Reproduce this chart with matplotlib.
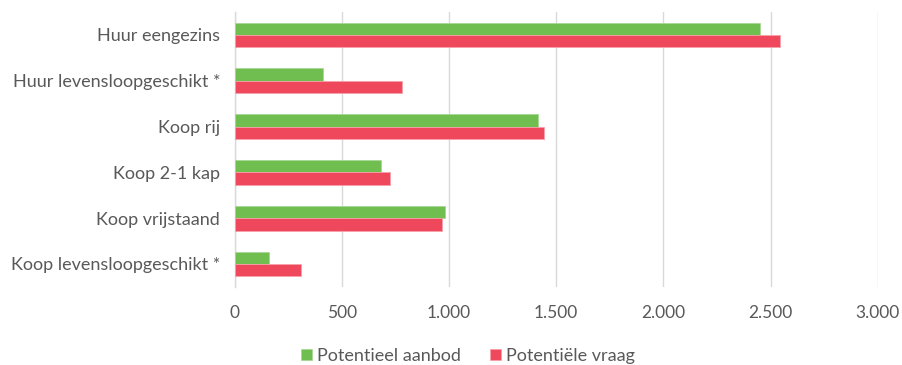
import matplotlib
matplotlib.use("Agg")
import matplotlib.pyplot as plt
from matplotlib.ticker import FuncFormatter
import numpy as np

categories = [
    "Huur eengezins",
    "Huur levensloopgeschikt *",
    "Koop rij",
    "Koop 2-1 kap",
    "Koop vrijstaand",
    "Koop levensloopgeschikt *",
]
aanbod = [2450, 412, 1414, 684, 979, 162]
vraag = [2545, 779, 1443, 723, 968, 307]
series_names = ["Potentieel aanbod", "Potentiële vraag"]
x_ticks = [0, 500, 1000, 1500, 2000, 2500, 3000]

green = "#70BE4F"
red = "#EF485C"
text_gray = "#595959"
grid_gray = "#D9D9D9"

plt.rcParams["font.family"] = ["Lato", "DejaVu Sans"]

fig = plt.figure(figsize=(9.03, 3.65), dpi=100)
ax = fig.add_axes([0.260, 0.214, 0.712, 0.753])

y = np.arange(len(categories))
h = 0.27
ax.barh(y - h / 2, aanbod, height=h, color=green, edgecolor="#A8D896",
        linewidth=0.6, label=series_names[0], zorder=3)
ax.barh(y + h / 2, vraag, height=h, color=red, edgecolor="#F6A0AA",
        linewidth=0.6, label=series_names[1], zorder=3)

ax.set_ylim(len(categories) - 0.5, -0.5)
ax.set_xlim(0, 3000)
ax.set_xticks(x_ticks)
ax.xaxis.set_major_formatter(FuncFormatter(lambda v, p: f"{int(v):,}".replace(",", ".")))
ax.set_yticks(y)
ax.set_yticklabels(categories)

ax.grid(axis="x", color=grid_gray, linewidth=1, zorder=0)
for s in ["top", "right", "bottom"]:
    ax.spines[s].set_visible(False)
ax.spines["left"].set_color(grid_gray)
ax.spines["left"].set_linewidth(1)
ax.tick_params(axis="both", length=0, colors=text_gray)
ax.tick_params(axis="y", pad=10.5, labelsize=13)
ax.tick_params(axis="x", pad=13, labelsize=12.5)

leg = fig.legend(loc="lower center", bbox_to_anchor=(0.518, -0.042), ncol=2,
                 frameon=False, fontsize=13, handlelength=0.6, handleheight=0.6,
                 columnspacing=1.6, handletextpad=0.3)
for t in leg.get_texts():
    t.set_color(text_gray)

fig.savefig("out.png", dpi=100)
